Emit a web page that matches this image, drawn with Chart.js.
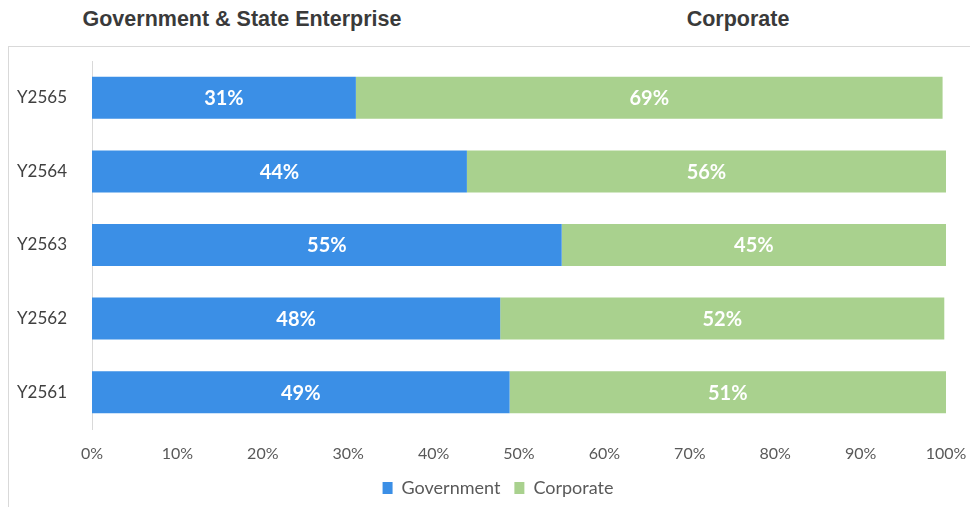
<!DOCTYPE html>
<html>
<head>
<meta charset="utf-8">
<script src="https://cdn.jsdelivr.net/npm/chart.js@4"></script>
<style>
  html, body { margin: 0; padding: 0; background: #fff; }
  #wrap { position: relative; width: 970px; height: 507px; overflow: hidden; }
  .frame { position: absolute; left: 8px; top: 46px; width: 980px; height: 480px; border: 1px solid #d9d9d9; box-sizing: border-box; }
  .title { position: absolute; top: 7px; font-family: "Liberation Sans", Arial, sans-serif; font-weight: bold; font-size: 21.5px; color: #3a3a3a; white-space: nowrap; transform: translateX(-50%); }
  canvas { position: absolute; left: 0; top: 0; }
</style>
</head>
<body>
<div id="wrap">
  <div class="frame"></div>
  <div class="title" style="left:242px">Government &amp; State Enterprise</div>
  <div class="title" style="left:738px">Corporate</div>
  <canvas id="c" width="970" height="507"></canvas>
</div>
<script>
const categories = ['Y2565', 'Y2564', 'Y2563', 'Y2562', 'Y2561'];
const government = [30.9, 43.9, 55.0, 47.8, 48.9];
const corporate = [68.7, 56.1, 45.0, 52.0, 51.1];
const xTicks = [0, 10, 20, 30, 40, 50, 60, 70, 80, 90, 100];

const FONT = "Lato, 'Open Sans', sans-serif";

const barLabels = {
  id: 'barLabels',
  afterDatasetsDraw(chart) {
    const ctx = chart.ctx;
    ctx.save();
    ctx.fillStyle = '#ffffff';
    ctx.font = "bold 20px " + FONT;
    ctx.textAlign = 'center';
    ctx.textBaseline = 'middle';
    chart.data.datasets.forEach((ds, di) => {
      const meta = chart.getDatasetMeta(di);
      meta.data.forEach((bar, i) => {
        const p = bar.getProps(['x', 'y', 'base'], true);
        const cx = (p.x + p.base) / 2;
        ctx.fillText(Math.round(ds.data[i]) + '%', cx, p.y + 1);
      });
    });
    ctx.restore();
  }
};

// centre the legend under the plot like the reference
const legendShift = {
  id: 'legendShift',
  afterLayout(chart) {
    const lg = chart.legend;
    if (!lg) return;
    const shift = 498 - (lg.left + lg.right) / 2;
    lg.left += shift;
    lg.right += shift;
  }
};

new Chart(document.getElementById('c'), {
  type: 'bar',
  data: {
    labels: categories,
    datasets: [
      { label: 'Government', data: government, backgroundColor: '#3b8fe6', borderWidth: 0 },
      { label: 'Corporate', data: corporate, backgroundColor: '#a9d18e', borderWidth: 0 }
    ]
  },
  options: {
    indexAxis: 'y',
    responsive: false,
    animation: false,
    devicePixelRatio: 1,
    layout: { padding: { top: 61, right: 24, left: 0, bottom: 0 } },
    datasets: { bar: { categoryPercentage: 1, barPercentage: 0.57 } },
    scales: {
      x: {
        stacked: true,
        min: 0, max: 100,
        afterBuildTicks(scale) { scale.ticks = xTicks.map(v => ({ value: v })); },
        grid: { display: false, drawTicks: false },
        border: { display: false },
        ticks: {
          padding: 15,
          color: '#595959',
          font: { family: FONT, size: 16 },
          callback: v => v + '%'
        },
        afterFit(scale) {
          scale.height = 36;
          scale.paddingLeft = 0;
          scale.paddingRight = 0;
        }
      },
      y: {
        stacked: true,
        grid: { display: false, drawTicks: false },
        border: { display: true, color: '#d9d9d9', width: 1 },
        ticks: {
          padding: 25,
          color: '#404040',
          font: { family: FONT, size: 17 }
        },
        afterFit(scale) { scale.width = 92; }
      }
    },
    plugins: {
      legend: {
        position: 'bottom',
        labels: {
          boxWidth: 10,
          boxHeight: 12,
          padding: 14,
          color: '#595959',
          font: { family: FONT, size: 18 }
        }
      },
      tooltip: { enabled: false }
    }
  },
  plugins: [barLabels, legendShift]
});
</script>
</body>
</html>
